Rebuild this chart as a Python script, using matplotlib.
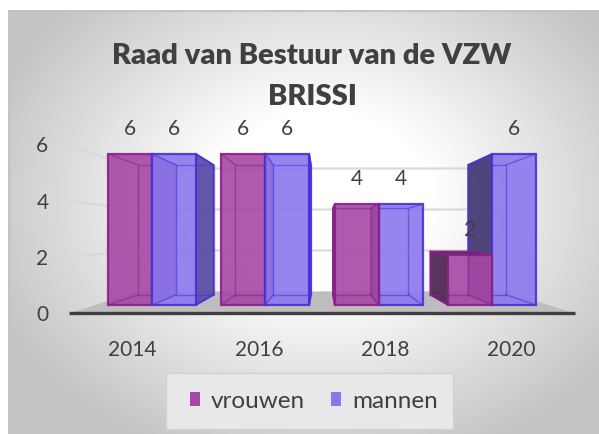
import numpy as np
import matplotlib.pyplot as plt
from matplotlib.patches import Polygon, Rectangle, Patch
from matplotlib.lines import Line2D

plt.rcParams['font.family'] = ['Lato', 'DejaVu Sans']

years = ['2014', '2016', '2018', '2020']
vrouwen = [6, 6, 4, 2]
mannen = [6, 6, 4, 6]
yticks = [0, 2, 4, 6]

W, H = 599, 434
TXT = '#404040'

# colours (excel style 3d bars)
V_FACE, V_EDGE, V_SIDE_L, V_SIDE_R = '#a548a5', '#8a1f8a', '#512a56', '#6b2d6e'
M_FACE, M_EDGE, M_SIDE_L, M_SIDE_R = '#8c78ee', '#4a2fd6', '#463c74', '#5c4ea6'

# perspective: vanishing point, depth scales (front face = 1)
VI, VV = 1.5, 2.9
SB = 0.86     # back of bars
SF = 1.115    # front edge of floor / left wall
SW = 0.814    # back wall
BW = 0.388    # bar width in category units


def proj(i, v, s):
    return (VI + s * (i - VI), VV + s * (v - VV))


fig = plt.figure(figsize=(W / 100, H / 100), dpi=100)

# background gradient of the chart area
bg = fig.add_axes([9 / W, 0, 1 - 9 / W, 1 - 11 / H])
yy, xx = np.mgrid[0:423, 0:590]
t = np.sqrt(((xx + 9 - 320) / 320) ** 2 + ((yy + 11 - 200) / 250) ** 2)
g = 1 - 0.23 * np.clip((t - 0.35) / 0.75, 0, 1)
bg.imshow(np.dstack([g, g, g]), aspect='auto')
bg.axis('off')
fig.add_artist(Line2D([9 / W, 9 / W], [0, 1 - 11 / H], color='#bdbdbd', lw=1.2))
fig.add_artist(Line2D([9 / W, 1], [1 - 11 / H, 1 - 11 / H], color='#bdbdbd', lw=1.2))

ax = fig.add_axes([0, 0, 1, 1])
ax.set_xlim(-152 / 113.3, (W - 152) / 113.3)
ax.set_ylim(-(H - 305) / 25.17, 305 / 25.17)
ax.axis('off')

x = np.arange(len(years))
left, right = -0.5, len(years) - 0.5

# floor
floor = [proj(left, 0, SF), proj(right, 0, SF), proj(right, 0, SW), proj(left, 0, SW)]
ax.add_patch(Polygon(floor, closed=True, facecolor='#bdbdbd', edgecolor='none', zorder=1))
fx, fy = zip(proj(left, 0, SF), proj(right, 0, SF))
ax.plot(fx, fy, color='#3f3f3f', lw=2.4, solid_capstyle='butt', zorder=2)

# gridlines on left and back wall
for v in yticks[1:]:
    p0, p1, p2 = proj(left, v, SF), proj(left, v, SW), proj(right, v, SW)
    ax.plot([p0[0], p1[0], p2[0]], [p0[1], p1[1], p2[1]], color='#d9d9d9', lw=1.5, zorder=1)
for v in yticks:
    ax.annotate(str(v), proj(left, v, SF), xytext=(-15, -1), textcoords='offset points',
                ha='right', va='center', fontsize=15, color=TXT)
for i, yr in enumerate(years):
    ax.annotate(yr, proj(i, 0, SF), xytext=(0, -26), textcoords='offset points',
                ha='center', va='center', fontsize=15, color=TXT)


def draw_bar(xc, val, face, edge, side_l, side_r, z):
    x0, x1 = xc - BW / 2, xc + BW / 2
    if x1 < VI:
        pts = [(x1, 0), (x1, val), proj(x1, val, SB), proj(x1, 0, SB)]
        ax.add_patch(Polygon(pts, closed=True, facecolor=side_r, edgecolor=edge,
                             lw=1.2, alpha=0.95, zorder=z))
    if x0 > VI:
        pts = [(x0, 0), (x0, val), proj(x0, val, SB), proj(x0, 0, SB)]
        ax.add_patch(Polygon(pts, closed=True, facecolor=side_l, edgecolor=edge,
                             lw=1.2, alpha=0.95, zorder=z))
    if val < VV:
        pts = [(x0, val), (x1, val), proj(x1, val, SB), proj(x0, val, SB)]
        ax.add_patch(Polygon(pts, closed=True, facecolor=side_l, edgecolor=edge,
                             lw=1.2, alpha=0.95, zorder=z))
    ax.bar([xc], [val], width=BW, color=face, edgecolor=edge, lw=1.6,
           alpha=0.9, zorder=z + 0.1)
    # see-through edges of the back of the box
    corners = [(x0, 0), (x1, 0), (x1, val), (x0, val)]
    back = [proj(cx, cy, SB) for cx, cy in corners]
    bx, by = zip(*(back + back[:1]))
    ax.plot(bx, by, color=edge, lw=1, alpha=0.55, zorder=z + 0.2)
    for (cx, cy), (dx, dy) in zip(corners, back):
        ax.plot([cx, dx], [cy, dy], color=edge, lw=1, alpha=0.55, zorder=z + 0.2)
    ax.annotate(str(val), (xc, val), xytext=(0, 18), textcoords='offset points',
                ha='center', va='center', fontsize=15, color=TXT, zorder=20)


for i in range(len(years)):
    xv, xm = x[i] - BW / 2, x[i] + BW / 2
    if xm < VI:
        draw_bar(xv, vrouwen[i], V_FACE, V_EDGE, V_SIDE_L, V_SIDE_R, 3 + 2 * i)
        draw_bar(xm, mannen[i], M_FACE, M_EDGE, M_SIDE_L, M_SIDE_R, 4 + 2 * i)
    else:
        draw_bar(xm, mannen[i], M_FACE, M_EDGE, M_SIDE_L, M_SIDE_R, 3 + 2 * i)
        draw_bar(xv, vrouwen[i], V_FACE, V_EDGE, V_SIDE_L, V_SIDE_R, 4 + 2 * i)

# title
fig.text(312 / W, 1 - 56 / H, 'Raad van Bestuur van de VZW', ha='center', va='center',
         fontsize=21, fontweight='heavy', color=TXT)
fig.text(312 / W, 1 - 97 / H, 'BRISSI', ha='center', va='center',
         fontsize=21, fontweight='heavy', color=TXT)

# legend
fig.add_artist(Rectangle((166 / W, 1 - 429 / H), 287 / W, 56 / H, transform=fig.transFigure,
                         facecolor='#e8e8e8', edgecolor='#d2d2d2', lw=1))
handles = [Patch(facecolor=V_FACE, edgecolor='none'), Patch(facecolor=M_FACE, edgecolor='none')]
fig.legend(handles, ['vrouwen', 'mannen'], loc='center', bbox_to_anchor=(314 / W, 1 - 401 / H),
           ncol=2, frameon=False, fontsize=17.5, labelcolor=TXT, handlelength=0.4,
           handleheight=0.55, handletextpad=0.45, columnspacing=1.07)

fig.savefig('out.png', dpi=100)
